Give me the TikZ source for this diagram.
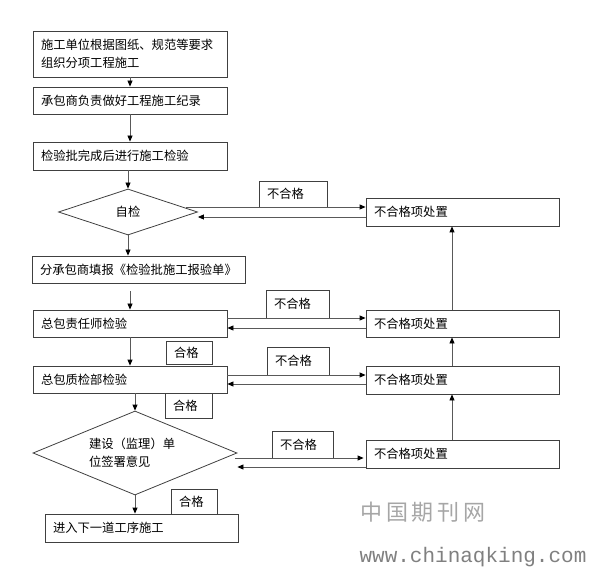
\documentclass[tikz,border=0pt]{standalone}
\usepackage{fontspec}
\newfontfamily\cjk{Noto Sans CJK SC}
\newfontfamily\wmono{Liberation Mono}
\usetikzlibrary{arrows.meta,shapes.geometric}
\begin{document}
\begin{tikzpicture}[x=1pt,y=-1pt,
  every node/.style={font=\cjk\fontsize{12.3}{18}\selectfont},
  box/.style 2 args={draw=black!75, line width=0.8pt, text width=#1, minimum height=#2, inner xsep=8pt, inner ysep=0pt, align=left},
  dia/.style 2 args={diamond, draw=black!75, line width=0.8pt, minimum width=#1, minimum height=#2, inner sep=0pt},
  conn/.style={draw=black!65, line width=0.8pt},
  arr/.style={conn, -{Triangle[length=6pt,width=5pt,color=black]}}]
\useasboundingbox (0,0) rectangle (589,569);

% main column
\node[box={178pt}{46pt}] (B1) at (130,54) {施工单位根据图纸、规范等要求\\组织分项工程施工};
\node[box={178pt}{27pt}] (B2) at (130,100.5) {承包商负责做好工程施工纪录};
\node[box={178pt}{28pt}] (B3) at (130,156) {检验批完成后进行施工检验};
\node[dia={139pt}{46pt}] (D1) at (128,212) {自检};
\node[box={197pt}{27pt}] (B4) at (138.5,269.5) {分承包商填报《检验批施工报验单》};
\node[box={178pt}{27pt}] (B5) at (130,323.5) {总包责任师检验};
\node[box={178pt}{27pt}] (B6) at (130,379.5) {总包质检部检验};
\node[dia={204pt}{84pt}] (D2) at (135,453) {};
\node[align=left, text width=93pt, inner sep=0pt] (D2t) at (135.5,452.5) {建设（监理）单\\位签署意见};
\node[box={177pt}{28pt}] (B7) at (141.5,528) {进入下一道工序施工};

% right column
\node[box={177pt}{28pt}] (R1) at (462.5,212) {不合格项处置};
\node[box={177pt}{27pt}] (R2) at (462.5,323.5) {不合格项处置};
\node[box={177pt}{28pt}] (R3) at (462.5,380) {不合格项处置};
\node[box={177pt}{28pt}] (R4) at (462.5,454) {不合格项处置};

% labels
\node[box={52pt}{26pt}] (L1) at (293,194) {不合格};
\node[box={47pt}{28pt}] (L2) at (297.5,304) {不合格};
\node[box={46pt}{28pt}] (L3) at (298,361) {不合格};
\node[box={45pt}{27pt}] (L4) at (302.5,444.5) {不合格};
\node[box={30pt}{23pt}] (G1) at (189,352.5) {合格};
\node[box={31pt}{25pt}] (G2) at (188.5,405.5) {合格};
\node[box={30pt}{25pt}] (G3) at (194,501.5) {合格};

% vertical flow
\draw[arr] (B1.south) -- (B2.north);
\draw[arr] (B2.south) -- (B3.north);
\draw[arr] (D1.north |- B3.south) -- (D1.north);
\draw[arr] (D1.south) -- (D1.south |- B4.north);
\draw[arr, shorten <=8pt] (B5.north |- B4.south) -- (B5.north);
\draw[arr] (B5.south) -- (B6.north);
\draw[arr] (D2.north |- B6.south) -- (D2.north);
\draw[arr] (D2.south) -- (D2.south |- B7.north);

% right column upward
\draw[arr] ([xshift=-10.5pt]R4.north) -- ([xshift=-10.5pt]R3.south);
\draw[arr] ([xshift=-10.5pt]R3.north) -- ([xshift=-10.5pt]R2.south);
\draw[arr] ([xshift=-10.5pt]R2.north) -- ([xshift=-10.5pt]R1.south);

% horizontal loops
\draw[arr] ([shift={(-12pt,5pt)}]D1.east) -- ([yshift=5pt]R1.west);
\draw[arr] ([yshift=-5pt]R1.west) -- ([yshift=-5pt]R1.west -| D1.east);
\draw[arr] ([yshift=5.5pt]B5.east) -- ([yshift=5.5pt]R2.west);
\draw[arr] ([yshift=-4.5pt]R2.west) -- ([yshift=-4.5pt]R2.west -| B5.east);
\draw[arr] ([yshift=5pt]R3.west -| B6.east) -- ([yshift=5pt]R3.west);
\draw[arr] ([yshift=-4pt]R3.west) -- ([yshift=-4pt]R3.west -| B6.east);
\draw[arr] ([shift={(-2pt,-5pt)}]D2.east) -- ([shift={(-2pt,-5pt)}]D2.east -| R4.west);
\draw[arr] ([yshift=-13pt]R4.west) -- ([yshift=-13pt]R4.west -| D2.east);

% watermark
\node[text=black!35, font=\cjk\fontsize{22}{22}\selectfont] (W1) at (423,512) {中\,国\,期\,刊\,网};
\node[text=black!50, font=\wmono\fontsize{21}{21}\selectfont] (W2) at (473,557) {www.chinaqking.com};
\end{tikzpicture}
\end{document}
